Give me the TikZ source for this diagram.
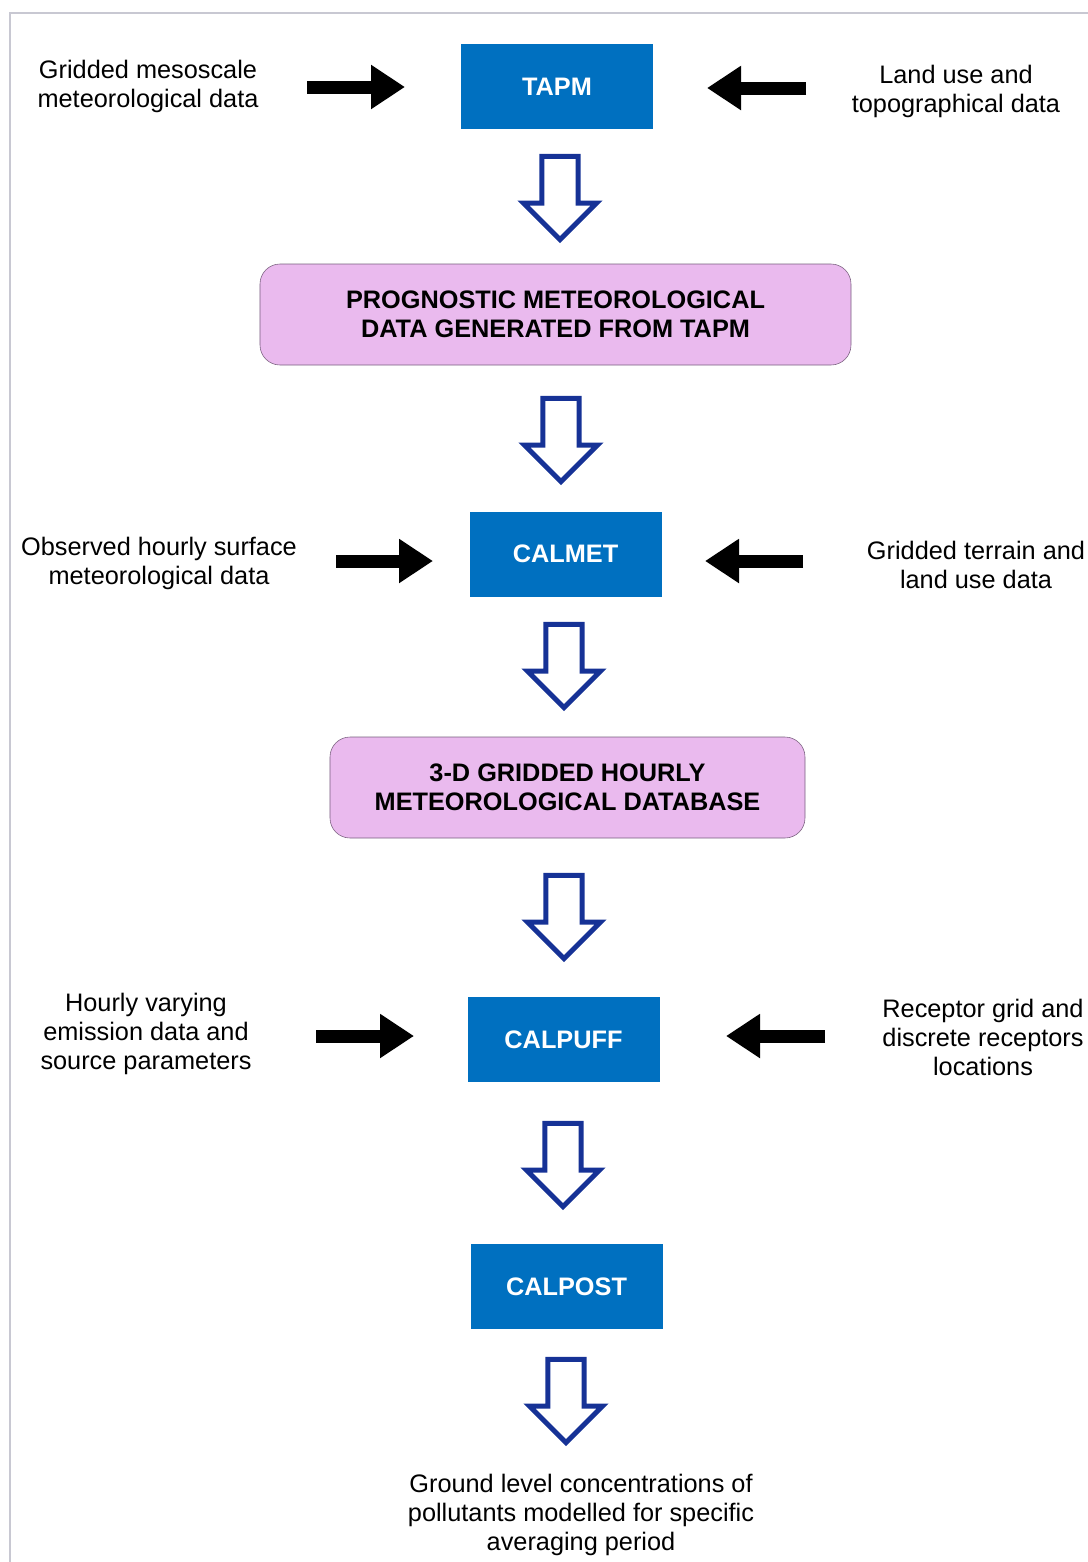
\documentclass[tikz,border=0pt]{standalone}
\usepackage{fontspec}
\setmainfont{Liberation Sans}
\usetikzlibrary{arrows.meta, shapes.arrows}

\definecolor{boxblue}{RGB}{0,112,192}
\definecolor{lilac}{RGB}{234,186,238}
\definecolor{lilacline}{RGB}{120,95,125}
\definecolor{navy}{RGB}{22,50,150}
\definecolor{framegray}{RGB}{200,200,210}

\begin{document}
\begin{tikzpicture}[x = 0.25mm, y = -0.25mm, % one unit = one pixel
                > = {Triangle[length=8.5mm, width=10.5mm]}, % black arrow head
                feed/.style = {->, line width = 3.25mm},
                model/.style = {fill = boxblue, text = white, inner sep = 0pt,
                  font = \fontsize{18}{20.6}\selectfont\bfseries,
                  minimum width = 48mm, minimum height = 21.25mm},
                result/.style = {draw = lilacline, fill = lilac, rounded corners = 5mm,
                  align = center, inner sep = 0pt, minimum height = 25.25mm,
                  font = \fontsize{18}{20.6}\selectfont\bfseries},
                info/.style = {align = center, inner sep = 0pt,
                  font = \fontsize{18}{20.6}\selectfont},
                flow/.style = {single arrow, shape border rotate = 270, draw = navy,
                  fill = white, line width = 1.25mm, inner sep = 3.9mm,
                  minimum height = 20.8mm, minimum width = 17.5mm,
                  single arrow head extend = 4.6mm, single arrow tip angle = 90}
            ]

            \useasboundingbox (0,0) rectangle (1088,1562);
            \draw[framegray, line width = 0.5mm] (10,1562) -- (10,13) -- (1088,13);

            % models and results
            \node[model] (tapm) at (557,86.5) {TAPM};
            \node[result, minimum width = 147.75mm] (prog) at (555.5,314.5)
                {PROGNOSTIC METEOROLOGICAL\\DATA GENERATED FROM TAPM};
            \node[model] (calmet) at (565.5,554) {CALMET};
            \node[result, minimum width = 118.75mm] (base) at (567.5,787.5)
                {3-D GRIDDED HOURLY\\METEOROLOGICAL DATABASE};
            \node[model] (calpuff) at (563.5,1039.5) {CALPUFF};
            \node[model] (calpost) at (566.5,1286.5) {CALPOST};

            % inputs
            \node[info] (meso) at (148,86) {Gridded mesoscale\\meteorological data};
            \node[info] (land) at (956,91) {Land use and\\topographical data};
            \node[info] (obs) at (159,563.5) {Observed hourly surface\\meteorological data};
            \node[info] (terr) at (976,564.5) {Gridded terrain and\\land use data};
            \node[info] (emis) at (146,1034) {Hourly varying\\emission data and\\source parameters};
            \node[info] (recp) at (983,1037) {Receptor grid and\\discrete receptors\\locations};
            \node[info] (glc) at (581,1515) {Ground level concentrations of\\pollutants modelled for specific\\averaging period};

            % hollow flow arrows
            \node[flow] (f1) at (560,189) {};
            \node[flow] (f2) at (561,431) {};
            \node[flow] (f3) at (564,657) {};
            \node[flow] (f4) at (564,908) {};
            \node[flow] (f5) at (563,1156) {};
            \node[flow] (f6) at (566,1392) {};

            % ends of the black arrows
            \coordinate (meso-t) at (307,87); \coordinate (meso-h) at (405,87);
            \coordinate (land-t) at (806,88); \coordinate (land-h) at (707,88);
            \coordinate (obs-t) at (336,561); \coordinate (obs-h) at (433,561);
            \coordinate (terr-t) at (803,561); \coordinate (terr-h) at (705,561);
            \coordinate (emis-t) at (316,1036); \coordinate (emis-h) at (414,1036);
            \coordinate (recp-t) at (825,1036); \coordinate (recp-h) at (726,1036);

            \draw[feed] (meso-t) -- (meso-h); \draw[feed] (land-t) -- (land-h);
            \draw[feed] (obs-t) -- (obs-h); \draw[feed] (terr-t) -- (terr-h);
            \draw[feed] (emis-t) -- (emis-h); \draw[feed] (recp-t) -- (recp-h);
        \end{tikzpicture}
\end{document}
